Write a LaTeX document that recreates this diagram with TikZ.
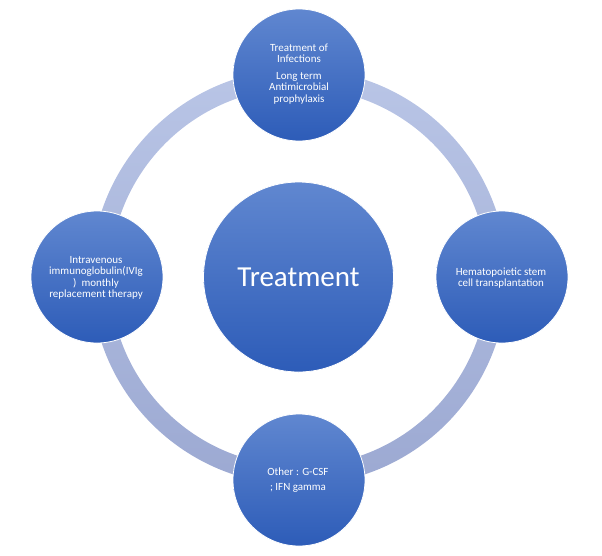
\documentclass[tikz,border=0pt]{standalone}
\usepackage{fontspec}
\setmainfont{Carlito}
\definecolor{ctop}{HTML}{6087D0}
\definecolor{cbot}{HTML}{2D5CB8}
\definecolor{rtop}{HTML}{B9C5E6}
\definecolor{rbot}{HTML}{9CA9D2}
\begin{document}
\begin{tikzpicture}[x=1pt,y=-1pt,
  bubble/.style={circle, draw=white, line width=0.8pt, top color=ctop, bottom color=cbot, inner sep=0pt},
  label/.style={text=white, align=center, font=\fontsize{11}{11.5}\selectfont}]
\useasboundingbox (0,0) rectangle (602,555);
\coordinate (ringc) at (299,277);
\shade[even odd rule, top color=rtop, bottom color=rbot]
  (ringc) circle[radius=208] (ringc) circle[radius=189];
\node[bubble, minimum size=190] (center) at (298.5,277) {};
\node[bubble, minimum size=132] (top) at (299,75) {};
\node[bubble, minimum size=132] (left) at (97,277) {};
\node[bubble, minimum size=132] (right) at (502,277) {};
\node[bubble, minimum size=132] (bottom) at (299,480) {};
\node[text=white, font=\fontsize{29}{32}\selectfont] (centertext) at (center) {Treatment};
\node[label] (toptext) at (299,74) {Treatment of\\Infections\\[5pt]Long term\\Antimicrobial\\prophylaxis};
\node[label] (lefttext) at (96,278) {Intravenous\\immunoglobulin(IVIg\\)\ \ monthly\\replacement therapy};
\node[label] (righttext) at (501,278) {Hematopoietic stem\\cell transplantation};
\node[label] (bottomtext) at (298,480) {Other : G-CSF\\[4pt]; IFN gamma};
\end{tikzpicture}
\end{document}
